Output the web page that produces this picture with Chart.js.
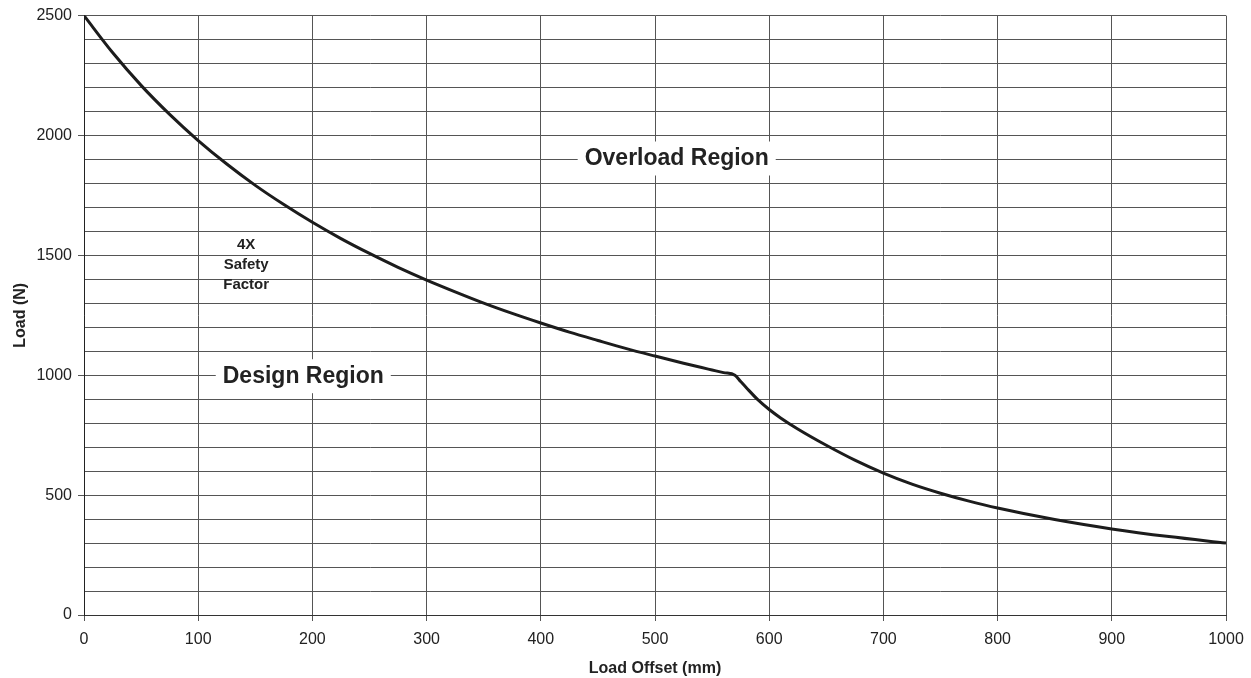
<!DOCTYPE html>
<html>
<head>
<meta charset="utf-8">
<script src="https://cdn.jsdelivr.net/npm/chart.js@4"></script>
<style>
  html, body { margin: 0; padding: 0; background: #fff; }
  #wrap { width: 1251px; height: 678px; }
</style>
</head>
<body>
<div id="wrap"><canvas id="loadChart"></canvas></div>
<script>
// load offset (mm) and the allowed load (N)
var offsets = [0, 25, 50, 75, 100, 125, 150, 175, 200, 225, 250, 275, 300, 325, 350, 375, 400, 425, 450, 475,
    500, 525, 540, 550, 560, 570,
    575, 580, 590, 600, 610, 625, 650, 675, 700, 725, 750, 775, 800, 850, 900, 950, 1000];
var loads = [2500, 2346, 2209, 2088, 1979, 1881, 1792, 1712, 1638, 1570, 1508, 1450, 1397, 1348, 1301, 1258, 1218, 1180, 1145, 1111,
    1080, 1050, 1033, 1022, 1011, 1000,
    974, 948, 898, 857, 822, 776, 708, 646, 592, 546, 508, 475, 446, 398, 359, 327, 300];

var xTicks = [0, 100, 200, 300, 400, 500, 600, 700, 800, 900, 1000];
var yTicks = [0, 500, 1000, 1500, 2000, 2500];

// annotation labels placed in data units
var notes = [
    { text: ['Overload Region'], x: 519, y: 1904, size: 23, box: true },
    { text: ['Design Region'], x: 192, y: 996, size: 23, box: true },
    { text: ['4X', 'Safety', 'Factor'], x: 142, y: 1545, size: 15, box: false }
];

var fontFamily = '"Liberation Sans", Arial, sans-serif';

var notesPlugin = {
    id: 'notes',
    afterDatasetsDraw: function (chart) {
        var ctx = chart.ctx;
        var xs = chart.scales.x, ys = chart.scales.y;
        notes.forEach(function (n) {
            ctx.save();
            ctx.font = 'bold ' + n.size + 'px ' + fontFamily;
            ctx.textAlign = 'center';
            ctx.textBaseline = 'middle';
            var px = xs.getPixelForValue(n.x);
            var py = ys.getPixelForValue(n.y);
            if (n.box) {
                var w = ctx.measureText(n.text[0]).width;
                ctx.fillStyle = '#fff';
                ctx.fillRect(px - w / 2 - 7, py - 17, w + 14, 34);
            }
            ctx.fillStyle = '#222';
            n.text.forEach(function (t, i) {
                ctx.fillText(t, px, py + i * 20);
            });
            ctx.restore();
        });
    }
};

var ctx = document.getElementById('loadChart').getContext('2d');
var loadChart = new Chart(ctx, {
    type: 'line',
    data: {
        datasets: [{
            data: offsets.map(function (x, i) { return { x: x, y: loads[i] }; }),
            borderColor: '#1c1c1c',
            borderWidth: 3,
            pointRadius: 0,
            cubicInterpolationMode: 'monotone',
            borderJoinStyle: 'round',
            fill: false
        }]
    },
    options: {
        responsive: true,
        maintainAspectRatio: false,
        animation: false,
        layout: { padding: { top: 15, right: 25, left: 0, bottom: 0 } },
        plugins: { legend: { display: false }, tooltip: { enabled: false } },
        scales: {
            x: {
                type: 'linear',
                min: 0,
                max: 1000,
                afterBuildTicks: function (s) { s.ticks = xTicks.map(function (v) { return { value: v }; }); },
                afterFit: function (s) { s.height = 63; s.paddingLeft = 0; s.paddingRight = 0; },
                ticks: {
                    color: '#222',
                    font: { family: fontFamily, size: 16 },
                    padding: 9,
                    maxRotation: 0,
                    callback: function (v) { return String(v); }
                },
                grid: { color: '#555', lineWidth: 1, tickLength: 6, tickColor: '#555' },
                border: { color: '#333', width: 1 },
                title: {
                    display: true,
                    text: 'Load Offset (mm)',
                    color: '#222',
                    font: { family: fontFamily, size: 16, weight: 'bold' },
                    padding: { top: 0, bottom: 0 }
                }
            },
            y: {
                type: 'linear',
                min: 0,
                max: 2500,
                ticks: {
                    stepSize: 100,
                    autoSkip: false,
                    color: '#222',
                    font: { family: fontFamily, size: 16 },
                    padding: 6,
                    callback: function (v) { return yTicks.indexOf(v) >= 0 ? String(v) : ''; }
                },
                afterFit: function (s) { s.width = 84; },
                grid: {
                    color: '#555',
                    lineWidth: 1,
                    tickLength: 6,
                    tickColor: function (c) { return yTicks.indexOf(c.tick.value) >= 0 ? '#555' : 'rgba(0,0,0,0)'; }
                },
                border: { color: '#222', width: 1 },
                title: {
                    display: true,
                    text: 'Load (N)',
                    color: '#222',
                    font: { family: fontFamily, size: 16, weight: 'bold' },
                    padding: { top: 11, bottom: 0 }
                }
            }
        }
    },
    plugins: [notesPlugin]
});
</script>
</body>
</html>
